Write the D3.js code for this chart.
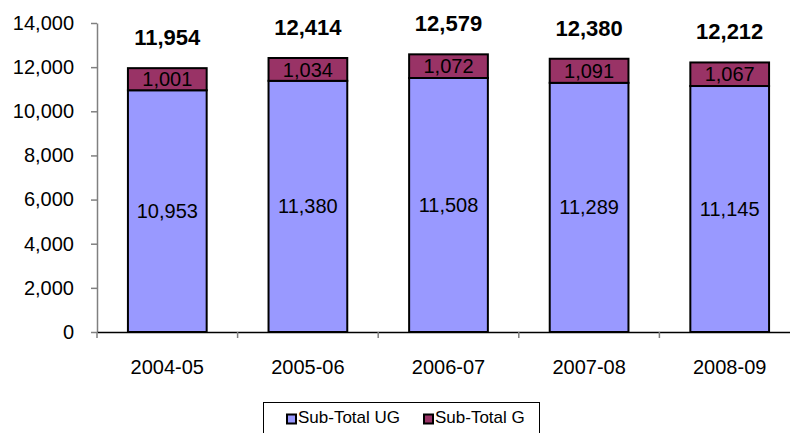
<!DOCTYPE html>
<html>
<head>
<meta charset="utf-8">
<script src="https://cdn.jsdelivr.net/npm/d3@7"></script>
<style>
  body { margin: 0; background: white; }
  text { font-family: "Liberation Sans", Arial, sans-serif; }
</style>
</head>
<body>
<script>
var years = ["2004-05", "2005-06", "2006-07", "2007-08", "2008-09"];
var subTotalUG = [10953, 11380, 11508, 11289, 11145];
var subTotalG = [1001, 1034, 1072, 1091, 1067];
var totals = [11954, 12414, 12579, 12380, 12212];
var yTicks = [0, 2000, 4000, 6000, 8000, 10000, 12000, 14000];

var width = 790, height = 433;
var fmt = d3.format(",");
var FONT = "'Liberation Sans', Arial, sans-serif";

var svg = d3.select("body").append("svg")
  .attr("width", width)
  .attr("height", height);

var x = d3.scaleBand().domain(years).range([97, 800]).paddingInner(0.44).paddingOuter(0.22);
var y = d3.scaleLinear().domain([0, 14000]).range([332, 23]);

// y axis
var yAxis = svg.append("g")
  .attr("transform", "translate(97,0)")
  .call(d3.axisLeft(y).tickValues(yTicks).tickFormat(fmt).tickSize(6).tickSizeOuter(0).tickPadding(17));
yAxis.select(".domain").attr("stroke", "#808080").attr("stroke-width", 1.5);
yAxis.selectAll(".tick line").attr("stroke", "#808080").attr("stroke-width", 1.5);
yAxis.selectAll(".tick text").attr("fill", "#000")
  .style("font-size", "20px")
  .style("font-family", FONT);

// bars
var rows = years.map(function(d, i) {
  return { year: d, ug: subTotalUG[i], g: subTotalG[i], total: totals[i] };
});

var bars = svg.append("g").selectAll("g").data(rows).enter().append("g");

bars.append("rect")
  .attr("x", function(d) { return x(d.year); })
  .attr("width", x.bandwidth())
  .attr("y", function(d) { return y(d.ug); })
  .attr("height", function(d) { return y(0) - y(d.ug); })
  .attr("fill", "#9999FF")
  .attr("stroke", "#000")
  .attr("stroke-width", 2);

bars.append("rect")
  .attr("x", function(d) { return x(d.year); })
  .attr("width", x.bandwidth())
  .attr("y", function(d) { return y(d.ug + d.g); })
  .attr("height", function(d) { return y(d.ug) - y(d.ug + d.g); })
  .attr("fill", "#993366")
  .attr("stroke", "#000")
  .attr("stroke-width", 2);

bars.append("text")
  .attr("x", function(d) { return x(d.year) + x.bandwidth() / 2; })
  .attr("y", function(d) { return (y(d.ug) + y(0)) / 2; })
  .attr("dy", "0.35em")
  .attr("text-anchor", "middle")
  .style("font-size", "20px")
  .text(function(d) { return fmt(d.ug); });

bars.append("text")
  .attr("x", function(d) { return x(d.year) + x.bandwidth() / 2; })
  .attr("y", function(d) { return (y(d.ug) + y(d.ug + d.g)) / 2; })
  .attr("dy", "0.36em")
  .attr("text-anchor", "middle")
  .style("font-size", "20px")
  .text(function(d) { return fmt(d.g); });

bars.append("text")
  .attr("x", function(d) { return x(d.year) + x.bandwidth() / 2; })
  .attr("y", function(d) { return y(d.total) - 23; })
  .attr("text-anchor", "middle")
  .style("font-size", "22px")
  .style("font-weight", "bold")
  .text(function(d) { return fmt(d.total); });

// x axis
var xAxis = svg.append("g")
  .attr("transform", "translate(0,332)")
  .call(d3.axisBottom(x).tickSize(0).tickPadding(28));
xAxis.select(".domain").attr("stroke", "#000").attr("stroke-width", 1.5);
xAxis.selectAll(".tick text").attr("fill", "#000")
  .style("font-size", "20px")
  .style("font-family", FONT);

// category boundary ticks
svg.append("g").selectAll("line")
  .data(d3.range(years.length + 1))
  .enter().append("line")
  .attr("x1", function(i) { return 97 + i * x.step(); })
  .attr("x2", function(i) { return 97 + i * x.step(); })
  .attr("y1", 332)
  .attr("y2", 338)
  .attr("stroke", "#808080")
  .attr("stroke-width", 1.5);

// legend
var legend = svg.append("g");
legend.append("rect")
  .attr("x", 263.5).attr("y", 402.5)
  .attr("width", 276).attr("height", 40)
  .attr("fill", "white").attr("stroke", "#000").attr("stroke-width", 1);

var legendItems = [
  { label: "Sub-Total UG", color: "#9999FF", x: 287 },
  { label: "Sub-Total G", color: "#993366", x: 424 }
];
var li = legend.selectAll("g.item").data(legendItems).enter().append("g");
li.append("rect")
  .attr("x", function(d) { return d.x; })
  .attr("y", 414.5)
  .attr("width", 9).attr("height", 9)
  .attr("fill", function(d) { return d.color; })
  .attr("stroke", "#000").attr("stroke-width", 2);
li.append("text")
  .attr("x", function(d) { return d.x + 11; })
  .attr("y", 423)
  .style("font-size", "17px")
  .text(function(d) { return d.label; });
</script>
</body>
</html>
